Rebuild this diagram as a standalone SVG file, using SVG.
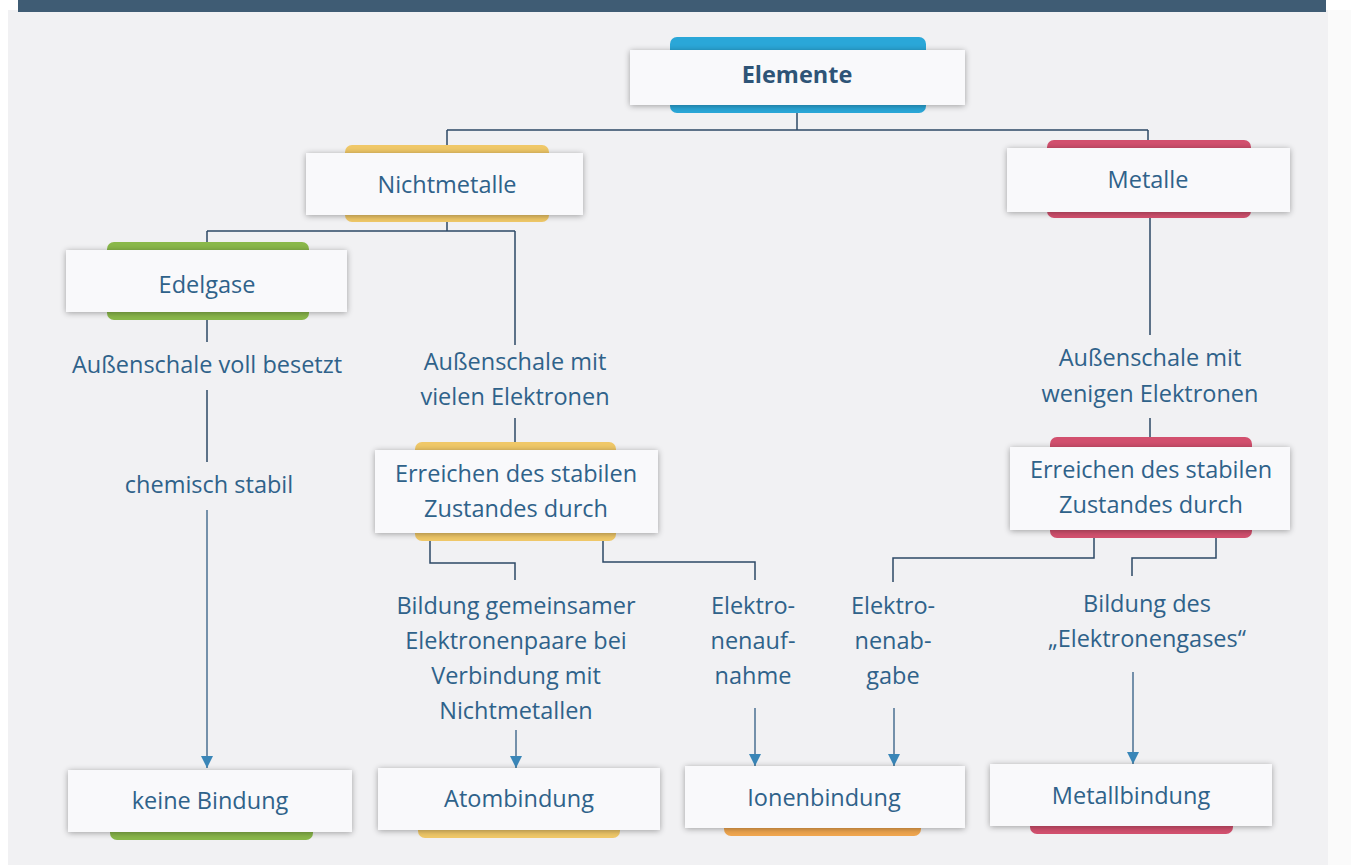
<svg xmlns="http://www.w3.org/2000/svg" width="1351" height="865" viewBox="0 0 1351 865">
<defs>
<filter id="sh" x="-10%" y="-30%" width="120%" height="160%">
<feGaussianBlur in="SourceAlpha" stdDeviation="3"/>
<feOffset dx="0" dy="1" result="b"/>
<feComponentTransfer><feFuncA type="linear" slope="0.35"/></feComponentTransfer>
<feMerge><feMergeNode/><feMergeNode in="SourceGraphic"/></feMerge>
</filter>
<marker id="ar" viewBox="0 0 10 10" refX="10" refY="5" markerWidth="12" markerHeight="12" markerUnits="userSpaceOnUse" orient="auto">
<path d="M0,0 L10,5 L0,10 z" fill="#3a86b8"/>
</marker>
</defs>
<style>
.box{fill:#f9f9fb;filter:url(#sh)}
.t{font-family:"Open Sans","Noto Sans",sans-serif;font-size:23.5px;fill:#2f628a;text-anchor:middle}
.tb{font-weight:bold;fill:#2e5477}
.c{fill:none;stroke:#2c4866;stroke-width:1.5}
.a{fill:none;stroke:#4a6f92;stroke-width:1.5;marker-end:url(#ar)}
.blue{fill:#2aa7d8}.yel{fill:#f0c868}.red{fill:#d2506e}.grn{fill:#8ab84a}.org{fill:#f0a64e}
</style>
<rect x="0" y="0" width="1351" height="865" fill="#ffffff"/>
<rect x="8" y="10" width="1322" height="855" fill="#f1f1f3"/>
<rect x="1328" y="10" width="23" height="855" fill="#fafafa"/>
<rect x="18" y="0" width="1308" height="12" fill="#3f5c74"/>

<g id="connectors">
<path class="c" d="M797,105 V130 M447,130 H1148 M447,130 V153 M1148,130 V148"/>
<path class="c" d="M447,215 V231 M207,231 H515 M207,231 V250 M515,231 V345"/>
<path class="c" d="M207,320 V342 M207,390 V462"/>
<path class="a" d="M207,510 V768"/>
<path class="c" d="M515,418 V442"/>
<path class="c" d="M1150,212 V335 M1150,418 V437"/>
<path class="c" d="M430,541 V563 H515 V580 M603,541 V562 H755 V580"/>
<path class="c" d="M1094,538 V558 H893 V582 M1216,538 V558 H1132 V576"/>
<path class="a" d="M516,730 V768"/>
<path class="a" d="M755,708 V766"/>
<path class="a" d="M894,708 V766"/>
<path class="a" d="M1133,672 V764"/>
</g>

<g id="elemente">
<rect class="blue" x="670" y="37" width="256" height="76" rx="7"/>
<rect class="box" x="630" y="50" width="335" height="55"/>
<text class="t tb" x="797" y="83">Elemente</text>
</g>
<g id="nichtmetalle">
<rect class="yel" x="345" y="145" width="204" height="77" rx="7"/>
<rect class="box" x="306" y="153" width="277" height="62"/>
<text class="t" x="447" y="193">Nichtmetalle</text>
</g>
<g id="metalle">
<rect class="red" x="1047" y="140" width="204" height="78" rx="7"/>
<rect class="box" x="1007" y="148" width="283" height="64"/>
<text class="t" x="1148" y="188">Metalle</text>
</g>
<g id="edelgase">
<rect class="grn" x="107" y="242" width="202" height="78" rx="7"/>
<rect class="box" x="66" y="250" width="281" height="62"/>
<text class="t" x="207" y="293">Edelgase</text>
</g>

<g id="label-voll">
<text class="t" x="207" y="373">Außenschale voll besetzt</text>
</g>
<g id="label-stabil">
<text class="t" x="209" y="493">chemisch stabil</text>
</g>
<g id="label-vielen">
<text class="t" x="515" y="370">Außenschale mit</text>
<text class="t" x="515" y="405">vielen Elektronen</text>
</g>
<g id="label-wenigen">
<text class="t" x="1150" y="366">Außenschale mit</text>
<text class="t" x="1150" y="402">wenigen Elektronen</text>
</g>

<g id="erreichen-links">
<rect class="yel" x="415" y="442" width="201" height="99" rx="7"/>
<rect class="box" x="375" y="450" width="283" height="83"/>
<text class="t" x="516" y="482">Erreichen des stabilen</text>
<text class="t" x="516" y="517">Zustandes durch</text>
</g>
<g id="erreichen-rechts">
<rect class="red" x="1050" y="437" width="202" height="101" rx="7"/>
<rect class="box" x="1010" y="447" width="280" height="83"/>
<text class="t" x="1151" y="478">Erreichen des stabilen</text>
<text class="t" x="1151" y="513">Zustandes durch</text>
</g>

<g id="label-paare">
<text class="t" x="516" y="614">Bildung gemeinsamer</text>
<text class="t" x="516" y="649">Elektronenpaare bei</text>
<text class="t" x="516" y="684">Verbindung mit</text>
<text class="t" x="516" y="719">Nichtmetallen</text>
</g>
<g id="label-aufnahme">
<text class="t" x="753" y="614">Elektro-</text>
<text class="t" x="753" y="649">nenauf-</text>
<text class="t" x="753" y="684">nahme</text>
</g>
<g id="label-abgabe">
<text class="t" x="893" y="614">Elektro-</text>
<text class="t" x="893" y="649">nenab-</text>
<text class="t" x="893" y="684">gabe</text>
</g>
<g id="label-gas">
<text class="t" x="1147" y="612">Bildung des</text>
<text class="t" x="1147" y="647">„Elektronengases“</text>
</g>

<g id="keine-bindung">
<rect class="grn" x="110" y="780" width="203" height="60" rx="7"/>
<rect class="box" x="68" y="770" width="284" height="62"/>
<text class="t" x="210" y="809">keine Bindung</text>
</g>
<g id="atombindung">
<rect class="yel" x="418" y="778" width="202" height="60" rx="7"/>
<rect class="box" x="378" y="768" width="282" height="62"/>
<text class="t" x="519" y="807">Atombindung</text>
</g>
<g id="ionenbindung">
<rect class="org" x="724" y="776" width="197" height="60" rx="7"/>
<rect class="box" x="685" y="766" width="280" height="62"/>
<text class="t" x="824" y="806">Ionenbindung</text>
</g>
<g id="metallbindung">
<rect class="red" x="1030" y="774" width="203" height="60" rx="7"/>
<rect class="box" x="990" y="764" width="282" height="62"/>
<text class="t" x="1131" y="804">Metallbindung</text>
</g>
</svg>
